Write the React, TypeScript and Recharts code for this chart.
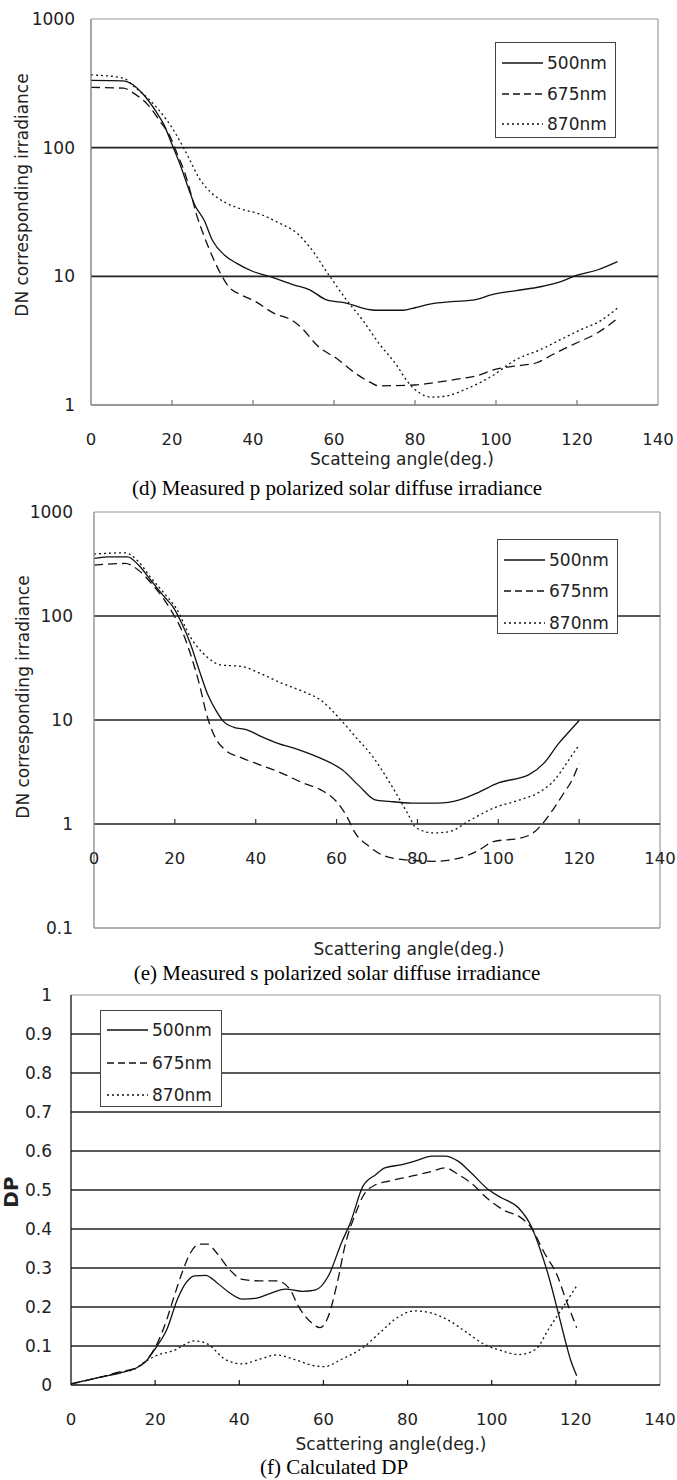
import React from 'react';
import { LineChart, Line, XAxis, YAxis, ReferenceLine } from 'recharts';

const SANS = '"DejaVu Sans", sans-serif';
const SERIF = '"Liberation Serif", "Times New Roman", serif';

const seriesNames = ['500nm', '675nm', '870nm'];
const lineDash = ['', '9 5', '2 3'];
const legendDash = ['', '7 4', '2 3'];
const angleTicks = [0, 20, 40, 60, 80, 100, 120, 140];

// (d) p polarized
const pAngles500 = [0, 8, 13, 16, 18, 20, 22, 24, 25.5, 28, 30, 33, 36, 40, 44, 50, 54, 58, 63, 69, 71, 77, 80, 84, 89, 95, 99, 105, 111, 116, 120, 125, 130];
const pValues500 = [333, 330, 258, 192, 151, 106, 74, 49, 36.5, 27, 19, 14.6, 12.6, 10.9, 10, 8.6, 7.85, 6.6, 6.2, 5.5, 5.45, 5.45, 5.7, 6.1, 6.35, 6.6, 7.2, 7.75, 8.3, 9.1, 10.2, 11.2, 13];
const pAngles675 = [0, 8, 10.6, 14, 17, 19.7, 21.3, 23, 24.5, 26, 27.7, 30, 32, 34, 37, 40.5, 45, 50, 52, 56, 61, 65, 69, 71, 80, 84, 90.5, 95, 100, 105, 110, 114, 119, 125, 130];
const pValues675 = [294, 290, 264, 216, 161, 119, 89, 66, 46, 30.6, 21.4, 14.2, 10.5, 8.3, 7.2, 6.4, 5.2, 4.47, 3.97, 2.87, 2.26, 1.79, 1.5, 1.41, 1.43, 1.48, 1.59, 1.68, 1.9, 2.01, 2.13, 2.47, 2.95, 3.63, 4.7];
const pAngles870 = [0, 8, 10.6, 14, 17, 20, 22.4, 24.5, 26.6, 30, 33, 37, 41.5, 46, 51, 54, 58.5, 63, 67, 71, 75.6, 78, 81, 84, 88, 92.6, 99, 105, 111, 116, 121, 125.6, 130];
const pValues870 = [368, 347, 299, 243, 192, 143, 106, 79, 58.7, 43.7, 37.7, 33.4, 30.6, 26.4, 21.4, 16.9, 10.5, 6.6, 4.6, 3.04, 2.01, 1.54, 1.25, 1.15, 1.18, 1.33, 1.68, 2.26, 2.7, 3.23, 3.86, 4.47, 5.67];
const pTicks = [1, 10, 100, 1000];
const pGrid = [10, 100];

// (e) s polarized
const sAngles500 = [0, 3.4, 8.3, 11, 14, 17.4, 19.5, 21.7, 23.8, 26, 28, 30.3, 32, 34.6, 37.8, 41, 45.3, 50.7, 56, 61.4, 65.7, 69.5, 73, 78.6, 85, 90.4, 94.7, 100, 107.6, 111.3, 115, 117.2, 120];
const sValues500 = [358, 371, 371, 309, 222, 153, 123, 85, 54.7, 30.3, 18.1, 12.1, 9.7, 8.5, 8.05, 7.05, 6.0, 5.17, 4.3, 3.32, 2.3, 1.71, 1.65, 1.59, 1.59, 1.71, 1.98, 2.48, 2.98, 3.85, 6.0, 7.5, 9.9];
const sAngles675 = [0, 7.7, 11, 14.2, 17.4, 19.5, 21.7, 23.8, 26, 28, 30.3, 32.4, 36.7, 41, 46.4, 51.7, 56, 60.3, 62.5, 64.6, 68, 72, 76.4, 84, 90.4, 94.7, 99, 105.4, 108.6, 110.8, 113.5, 116.2, 118.3, 120];
const sValues675 = [309, 320, 276, 206, 143, 106, 73, 43.8, 22.6, 10.8, 6.45, 5.17, 4.3, 3.71, 3.09, 2.48, 2.14, 1.59, 1.19, 0.82, 0.61, 0.49, 0.455, 0.438, 0.47, 0.547, 0.68, 0.73, 0.82, 0.99, 1.37, 1.98, 2.67, 3.85];
const sAngles870 = [0, 7.7, 11, 14.2, 17.4, 20.6, 23.8, 27, 31.3, 36.7, 41, 46.4, 51.7, 56, 60.3, 64.6, 68.9, 73.2, 77.5, 79.7, 84, 88.2, 92.5, 99, 105.4, 109.7, 114, 117.2, 120];
const sValues870 = [394, 405, 333, 230, 165, 114, 63, 43.8, 33.9, 32.6, 28.2, 22.6, 18.8, 15.6, 10.8, 6.95, 4.46, 2.48, 1.28, 0.92, 0.82, 0.85, 1.06, 1.43, 1.71, 1.98, 2.67, 4.0, 5.78];
const sTicks = [0.1, 1, 10, 100, 1000];
const sGrid = [1, 10, 100];

// (f) DP
const dpAngles500 = [0, 7, 12, 15, 17.6, 20.2, 22.8, 25.3, 27.4, 29.4, 32, 34.6, 37.6, 40.7, 43.8, 46.9, 51, 55, 58, 61.2, 64.3, 66.4, 69.4, 72.5, 74.6, 78.7, 81.7, 85.8, 88.9, 92, 95.1, 99.2, 102.3, 106.4, 109.4, 111.5, 113.5, 115.6, 117.6, 118.7, 120.2];
const dpValues500 = [0.003, 0.02, 0.032, 0.041, 0.058, 0.096, 0.143, 0.22, 0.263, 0.28, 0.281, 0.263, 0.237, 0.22, 0.222, 0.233, 0.246, 0.24, 0.243, 0.28, 0.365, 0.416, 0.51, 0.54, 0.557, 0.565, 0.574, 0.587, 0.587, 0.574, 0.544, 0.501, 0.48, 0.454, 0.407, 0.348, 0.28, 0.194, 0.109, 0.066, 0.024];
const dpAngles675 = [0, 7, 12, 15, 17.6, 20.2, 22.8, 24.3, 26.4, 28.4, 30.5, 32.5, 34.6, 37.6, 40.7, 44.8, 48.9, 52, 54, 57.1, 59.2, 61.2, 63.3, 65.3, 67.4, 69.4, 72.5, 75.6, 80.7, 85.8, 88.9, 92, 95.1, 99.2, 103.3, 106.4, 109.4, 112.5, 115.6, 117.6, 120.2];
const dpValues675 = [0.003, 0.02, 0.035, 0.042, 0.06, 0.1, 0.169, 0.22, 0.288, 0.339, 0.361, 0.361, 0.339, 0.297, 0.271, 0.267, 0.267, 0.246, 0.203, 0.16, 0.147, 0.177, 0.263, 0.365, 0.433, 0.484, 0.514, 0.523, 0.535, 0.548, 0.557, 0.54, 0.518, 0.476, 0.446, 0.433, 0.403, 0.339, 0.28, 0.22, 0.147];
const dpAngles870 = [0, 7, 12, 15, 17.6, 20.2, 24.3, 29.4, 32.5, 36.6, 40.7, 44.8, 48.9, 53, 57.1, 60.2, 64.3, 69.4, 73.5, 77.6, 81.7, 85.8, 89.9, 94, 98.1, 102.3, 106.4, 110.5, 113.5, 116.6, 120.2];
const dpValues870 = [0.003, 0.02, 0.033, 0.04, 0.06, 0.075, 0.088, 0.113, 0.105, 0.066, 0.054, 0.066, 0.077, 0.066, 0.051, 0.047, 0.066, 0.096, 0.135, 0.173, 0.19, 0.184, 0.165, 0.135, 0.105, 0.088, 0.078, 0.092, 0.143, 0.194, 0.254];
const dpTicks = [0, 0.1, 0.2, 0.3, 0.4, 0.5, 0.6, 0.7, 0.8, 0.9, 1];
const dpGrid = [0.1, 0.2, 0.3, 0.4, 0.5, 0.6, 0.7, 0.8, 0.9];

const zip = (xs: number[], ys: number[]) => xs.map((x, i) => ({ x, y: ys[i] }));

type Legend = { left: number; top: number; width: number; height: number; rows: number[] };

type PanelProps = {
  top: number;
  height: number;
  plotTop: number;
  plotBottom: number;
  plotLeft: number;
  plotRight: number;
  series: { x: number; y: number }[][];
  yDomain: [number, number];
  yTicks: number[];
  log?: boolean;
  grid: number[];
  cross?: number;
  leftColor: string;
  bottomColor: string;
  labelGap: number;
  legend: Legend;
  yTitle: string;
  yTitlePos: [number, number];
  yTitleBold?: boolean;
  xTitle: string;
  xTitlePos: [number, number];
  caption: string;
  captionPos: [number, number];
};

function AngleTick(props: any) {
  const { x, y, payload, shift, color } = props;
  const axisY = y - shift;
  const v = payload.value;
  return (
    <g>
      {v > 0 && v < 140 && (
        <line x1={x} x2={x} y1={axisY} y2={axisY - 5} stroke={color} strokeWidth={1.2} />
      )}
      <text x={x} y={axisY + 34} textAnchor="middle" dominantBaseline="central" fontFamily={SANS} fontSize={16.5} fill="#222">
        {v}
      </text>
    </g>
  );
}

function LegendBox({ legend }: { legend: Legend }) {
  return (
    <div
      style={{
        position: 'absolute',
        left: legend.left,
        top: legend.top,
        width: legend.width,
        height: legend.height,
        boxSizing: 'border-box',
        border: '1px solid #444',
        background: '#fff',
      }}
    >
      <svg width={legend.width - 2} height={legend.height - 2} style={{ display: 'block' }}>
        {seriesNames.map((name, i) => (
          <g key={name}>
            <line x1={6} x2={47} y1={legend.rows[i]} y2={legend.rows[i]} stroke="#111" strokeWidth={1.3} strokeDasharray={legendDash[i] || undefined} />
            <text x={51} y={legend.rows[i]} dominantBaseline="central" fontFamily={SANS} fontSize={17} fill="#222">
              {name}
            </text>
          </g>
        ))}
      </svg>
    </div>
  );
}

function Panel(p: PanelProps) {
  const plotH = p.plotBottom - p.plotTop;
  let shift = 0;
  if (p.cross !== undefined) {
    const [lo, hi] = p.yDomain;
    shift = (plotH * (Math.log10(p.cross) - Math.log10(lo))) / (Math.log10(hi) - Math.log10(lo));
  }
  const text: React.CSSProperties = { position: 'absolute', whiteSpace: 'nowrap', color: '#222', lineHeight: 1 };
  return (
    <>
      <div style={{ position: 'absolute', left: 0, top: p.top }}>
        <LineChart
          width={677}
          height={p.height}
          margin={{ top: p.plotTop - p.top, right: 677 - p.plotRight, left: 0, bottom: 0 }}
        >
          <XAxis
            type="number"
            dataKey="x"
            domain={[0, 140]}
            ticks={angleTicks}
            interval={0}
            allowDataOverflow
            height={p.top + p.height - p.plotBottom}
            tickLine={false}
            tickSize={0}
            tickMargin={0}
            axisLine={{ stroke: p.bottomColor, strokeWidth: 1.3 }}
            tick={(t: any) => <AngleTick {...t} shift={shift} color={p.cross !== undefined ? '#333' : p.bottomColor} />}
          />
          <YAxis
            type="number"
            scale={p.log ? 'log' : 'linear'}
            domain={p.yDomain}
            ticks={p.yTicks}
            interval={0}
            allowDataOverflow
            width={p.plotLeft}
            tickLine={false}
            tickSize={0}
            tickMargin={p.labelGap}
            axisLine={{ stroke: p.leftColor, strokeWidth: 1.3 }}
            tick={{ fill: '#222', fontSize: 17, fontFamily: SANS }}
          />
          <ReferenceLine y={p.yDomain[1]} stroke="#999" strokeWidth={1.2} />
          <ReferenceLine x={140} stroke="#999" strokeWidth={1.2} />
          {p.grid.map((v) => (
            <ReferenceLine key={v} y={v} stroke="#222" strokeWidth={1.6} />
          ))}
          {p.series.map((d, i) => (
            <Line
              key={seriesNames[i]}
              data={d}
              dataKey="y"
              name={seriesNames[i]}
              type="monotone"
              stroke="#111"
              strokeWidth={1.3}
              strokeDasharray={lineDash[i] || undefined}
              dot={false}
              activeDot={false}
              isAnimationActive={false}
            />
          ))}
        </LineChart>
      </div>
      <LegendBox legend={p.legend} />
      <div
        style={{
          ...text,
          left: p.yTitlePos[0],
          top: p.yTitlePos[1],
          transform: 'translate(-50%, -50%) rotate(-90deg)',
          fontFamily: SANS,
          fontSize: p.yTitleBold ? 20 : 17,
          fontWeight: p.yTitleBold ? 'bold' : 'normal',
        }}
      >
        {p.yTitle}
      </div>
      <div style={{ ...text, left: p.xTitlePos[0], top: p.xTitlePos[1], transform: 'translate(-50%, -50%)', fontFamily: SANS, fontSize: 17 }}>
        {p.xTitle}
      </div>
      <div style={{ ...text, left: p.captionPos[0], top: p.captionPos[1], transform: 'translate(-50%, -50%)', fontFamily: SERIF, fontSize: 21, color: '#000' }}>
        {p.caption}
      </div>
    </>
  );
}

export default function App() {
  return (
    <div style={{ position: 'relative', width: 677, height: 1480, background: '#fff', overflow: 'hidden' }}>
      <style>{'body{margin:0;}'}</style>
      <Panel
        top={0}
        height={470}
        plotTop={19}
        plotBottom={405}
        plotLeft={91}
        plotRight={658}
        series={[zip(pAngles500, pValues500), zip(pAngles675, pValues675), zip(pAngles870, pValues870)]}
        yDomain={[1, 1000]}
        yTicks={pTicks}
        log
        grid={pGrid}
        leftColor="#777"
        bottomColor="#777"
        labelGap={16}
        legend={{ left: 495, top: 42, width: 121, height: 96, rows: [20, 51, 81] }}
        yTitle="DN corresponding irradiance"
        yTitlePos={[22, 195]}
        xTitle="Scatteing angle(deg.)"
        xTitlePos={[402, 459]}
        caption="(d) Measured p polarized solar diffuse irradiance"
        captionPos={[337, 488]}
      />
      <Panel
        top={490}
        height={470}
        plotTop={512}
        plotBottom={928}
        plotLeft={94}
        plotRight={660}
        series={[zip(sAngles500, sValues500), zip(sAngles675, sValues675), zip(sAngles870, sValues870)]}
        yDomain={[0.1, 1000]}
        yTicks={sTicks}
        log
        grid={sGrid}
        cross={1}
        leftColor="#888"
        bottomColor="#999"
        labelGap={21}
        legend={{ left: 497, top: 539, width: 121, height: 95, rows: [20, 51, 83] }}
        yTitle="DN corresponding irradiance"
        yTitlePos={[23, 697]}
        xTitle="Scattering angle(deg.)"
        xTitlePos={[409, 949]}
        caption="(e) Measured s polarized solar diffuse irradiance"
        captionPos={[337, 973]}
      />
      <Panel
        top={980}
        height={480}
        plotTop={995}
        plotBottom={1385}
        plotLeft={71}
        plotRight={660}
        series={[zip(dpAngles500, dpValues500), zip(dpAngles675, dpValues675), zip(dpAngles870, dpValues870)]}
        yDomain={[0, 1]}
        yTicks={dpTicks}
        grid={dpGrid}
        leftColor="#111"
        bottomColor="#111"
        labelGap={19}
        legend={{ left: 100, top: 1010, width: 122, height: 97, rows: [19, 52, 84] }}
        yTitle="DP"
        yTitlePos={[11, 1192]}
        yTitleBold
        xTitle="Scattering angle(deg.)"
        xTitlePos={[391, 1444]}
        caption="(f) Calculated DP"
        captionPos={[334, 1467]}
      />
    </div>
  );
}
